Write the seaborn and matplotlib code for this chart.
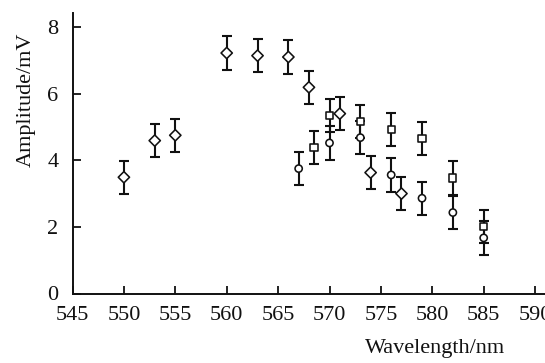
import matplotlib
matplotlib.use("Agg")
import matplotlib.pyplot as plt
import seaborn as sns
import pandas as pd

# Data
diamond_x = [550, 553, 555, 560, 563, 566, 568, 571, 574, 577]
diamond_y = [3.49, 4.59, 4.75, 7.22, 7.14, 7.10, 6.19, 5.40, 3.63, 3.00]
square_x = [568.5, 570, 573, 576, 579, 582, 585]
square_y = [4.39, 5.35, 5.17, 4.93, 4.66, 3.47, 2.01]
circle_x = [567, 570, 573, 576, 579, 582, 585]
circle_y = [3.75, 4.52, 4.68, 3.56, 2.86, 2.43, 1.67]
err = 0.5

x_ticks = [545, 550, 555, 560, 565, 570, 575, 580, 585, 590]
y_ticks = [0, 2, 4, 6, 8]

df = pd.concat([
    pd.DataFrame({"x": diamond_x, "y": diamond_y, "series": "diamond"}),
    pd.DataFrame({"x": square_x, "y": square_y, "series": "square"}),
    pd.DataFrame({"x": circle_x, "y": circle_y, "series": "circle"}),
], ignore_index=True)

sns.set_theme(style="ticks")
plt.rcParams["font.family"] = ["Liberation Serif", "DejaVu Serif"]

fig = plt.figure(figsize=(5.45, 3.63), dpi=100)
W, H = 545, 363
left, bottom_px, top_px = 72.5, 293.5, 12.7
xmin, xmax = 545, 592.5
ppn = 10.28
width_px = (xmax - xmin) * ppn
ax = fig.add_axes([left / W, (H - bottom_px) / H, width_px / W, (bottom_px - top_px) / H])

ax.errorbar(df["x"], df["y"], yerr=err, fmt="none", ecolor="#111111",
            elinewidth=1.5, capsize=3.8, capthick=1.5, zorder=2)
sns.scatterplot(data=df, x="x", y="y", style="series", size="series",
                markers={"diamond": "D", "square": "s", "circle": "o"},
                sizes={"diamond": 33, "square": 27, "circle": 27},
                facecolor="white", edgecolor="#111111", linewidth=1.15,
                legend=False, ax=ax, zorder=3)

ax.set_xlim(xmin, xmax)
ax.set_ylim(0, 8.43)
ax.set_xticks(x_ticks)
ax.set_yticks(y_ticks)
ax.tick_params(direction="in", length=5.5, width=1.3, labelsize=16,
               colors="#111111")
ax.tick_params(axis="x", pad=9)
ax.tick_params(axis="y", pad=10)
for s in ["top", "right"]:
    ax.spines[s].set_visible(False)
for s in ["left", "bottom"]:
    ax.spines[s].set_linewidth(1.4)
    ax.spines[s].set_color("#111111")

ax.set_xlabel("")
ax.set_ylabel("")
fig.text(26 / W, 1 - 100 / H, "Amplitude/mV", rotation=90, ha="center",
         va="center", fontsize=16, color="#111111")
fig.text(435 / W, 1 - 349 / H, "Wavelength/nm", ha="center", va="center",
         fontsize=16, color="#111111")

fig.savefig("out.png", dpi=100)
